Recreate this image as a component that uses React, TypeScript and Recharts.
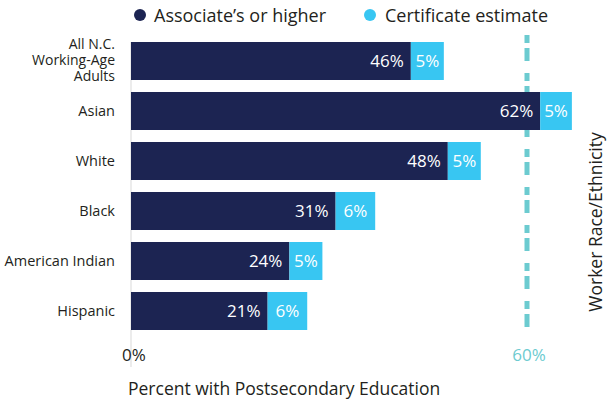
import React from 'react';
import { BarChart, Bar, XAxis, YAxis, Legend, ReferenceLine, LabelList } from 'recharts';

const categories = ['All N.C. Working-Age Adults', 'Asian', 'White', 'Black', 'American Indian', 'Hispanic'];
const associateValues = [42.4, 62, 48, 31, 24, 20.7];
const certificateValues = [5, 4.8, 5, 6, 5, 6];
const associateLabels = ['46%', '62%', '48%', '31%', '24%', '21%'];
const certificateLabels = ['5%', '5%', '5%', '6%', '5%', '6%'];
const categoryLines: Record<string, string[]> = {
  'All N.C. Working-Age Adults': ['All N.C.', 'Working-Age', 'Adults'],
};

const data = categories.map((name, i) => ({
  name,
  associate: associateValues[i],
  certificate: certificateValues[i],
  aLabel: associateLabels[i],
  cLabel: certificateLabels[i],
}));

const NAVY = '#1c2452';
const CYAN = '#38c6f2';
const TEAL = '#6ccbd0';
const FONT = '"Open Sans", sans-serif';
const TEXT = '#231f20';

const CategoryTick = (props: any) => {
  const { y, payload } = props;
  const lines = categoryLines[payload.value] || [payload.value];
  const multi = lines.length > 1;
  const lh = 16;
  const fs = multi ? 14 : 14.5;
  const start = y - ((lines.length - 1) * lh) / 2;
  return (
    <g>
      {lines.map((l, i) => (
        <text key={i} x={115} y={start + i * lh} dy={multi ? 4 : 5} textAnchor="end" fontSize={fs} fontFamily={FONT} fill={TEXT}>
          {l}
        </text>
      ))}
    </g>
  );
};

const AssocLabel = (props: any) => {
  const { x, y, width, height, index } = props;
  return (
    <text x={x + width - 7} y={y + height / 2} dy={6} textAnchor="end" fontSize={17} fontWeight={500} fontFamily={FONT} fill="#fff">
      {associateLabels[index]}
    </text>
  );
};

const CertLabel = (props: any) => {
  const { x, y, width, height, index } = props;
  return (
    <text x={x + width / 2} y={y + height / 2} dy={6} textAnchor="middle" fontSize={17} fontWeight={500} fontFamily={FONT} fill="#fff">
      {certificateLabels[index]}
    </text>
  );
};

const ZeroLine = (props: any) => {
  const { x1, y1, y2 } = props;
  const top = Math.min(y1, y2);
  const bottom = Math.max(y1, y2);
  return (
    <g>
      <line x1={x1} x2={x1} y1={top + 6} y2={bottom + 31} stroke="#d9d9d9" strokeWidth={1} />
      <text x={x1 + 3} y={bottom + 25} textAnchor="middle" fontSize={17} fontFamily={FONT} fill={TEXT}>0%</text>
      <text x={128} y={bottom + 59} textAnchor="start" fontSize={17.5} fontFamily={FONT} fill={TEXT}>
        Percent with Postsecondary Education
      </text>
    </g>
  );
};

const TargetLine = (props: any) => {
  const { x1, y1, y2 } = props;
  const top = Math.min(y1, y2);
  const bottom = Math.max(y1, y2);
  return (
    <g>
      <line x1={x1} x2={x1} y1={top - 1} y2={bottom - 5} stroke={TEAL} strokeWidth={5} strokeDasharray="8 5 13 12" />
      <text x={x1 + 2} y={bottom + 25} textAnchor="middle" fontSize={17} fontFamily={FONT} fill={TEAL}>60%</text>
      <text transform={`translate(602, 222) rotate(-90)`} textAnchor="middle" fontSize={17.5} fontFamily={FONT} fill={TEXT}>
        Worker Race/Ethnicity
      </text>
    </g>
  );
};

const LegendContent = () => (
  <div style={{ height: 36, position: 'relative', fontFamily: FONT, fontSize: 18, color: TEXT }}>
    <div style={{ position: 'absolute', left: 134, top: 3, display: 'flex', alignItems: 'center', whiteSpace: 'nowrap' }}>
      <span style={{ width: 12, height: 12, borderRadius: 6, background: NAVY, display: 'inline-block', marginRight: 8 }} />
      <span>Associate’s or higher</span>
    </div>
    <div style={{ position: 'absolute', left: 364, top: 3, display: 'flex', alignItems: 'center', whiteSpace: 'nowrap' }}>
      <span style={{ width: 12, height: 12, borderRadius: 6, background: CYAN, display: 'inline-block', marginRight: 9 }} />
      <span>Certificate estimate</span>
    </div>
  </div>
);

export default function App() {
  const refProps: any = { zIndex: -10 };
  return (
    <div style={{ position: 'absolute', left: 0, top: 0, background: '#fff' }}>
      <BarChart
        width={607}
        height={402}
        data={data}
        layout="vertical"
        margin={{ top: 0, right: 14, bottom: 66, left: 0 }}
      >
        <Legend verticalAlign="top" align="left" content={<LegendContent />} wrapperStyle={{ left: 0, top: 0, width: 607 }} />
        <XAxis type="number" domain={[0, 70]} hide />
        <YAxis type="category" dataKey="name" width={131} axisLine={false} tickLine={false} tick={<CategoryTick />} interval={0} />
        <ReferenceLine x={0} shape={<ZeroLine />} {...refProps} />
        <ReferenceLine x={60} shape={<TargetLine />} {...refProps} />
        <Bar dataKey="associate" stackId="a" fill={NAVY} barSize={38} isAnimationActive={false}>
          <LabelList dataKey="aLabel" content={<AssocLabel />} />
        </Bar>
        <Bar dataKey="certificate" stackId="a" fill={CYAN} barSize={38} isAnimationActive={false}>
          <LabelList dataKey="cLabel" content={<CertLabel />} />
        </Bar>
      </BarChart>
    </div>
  );
}
